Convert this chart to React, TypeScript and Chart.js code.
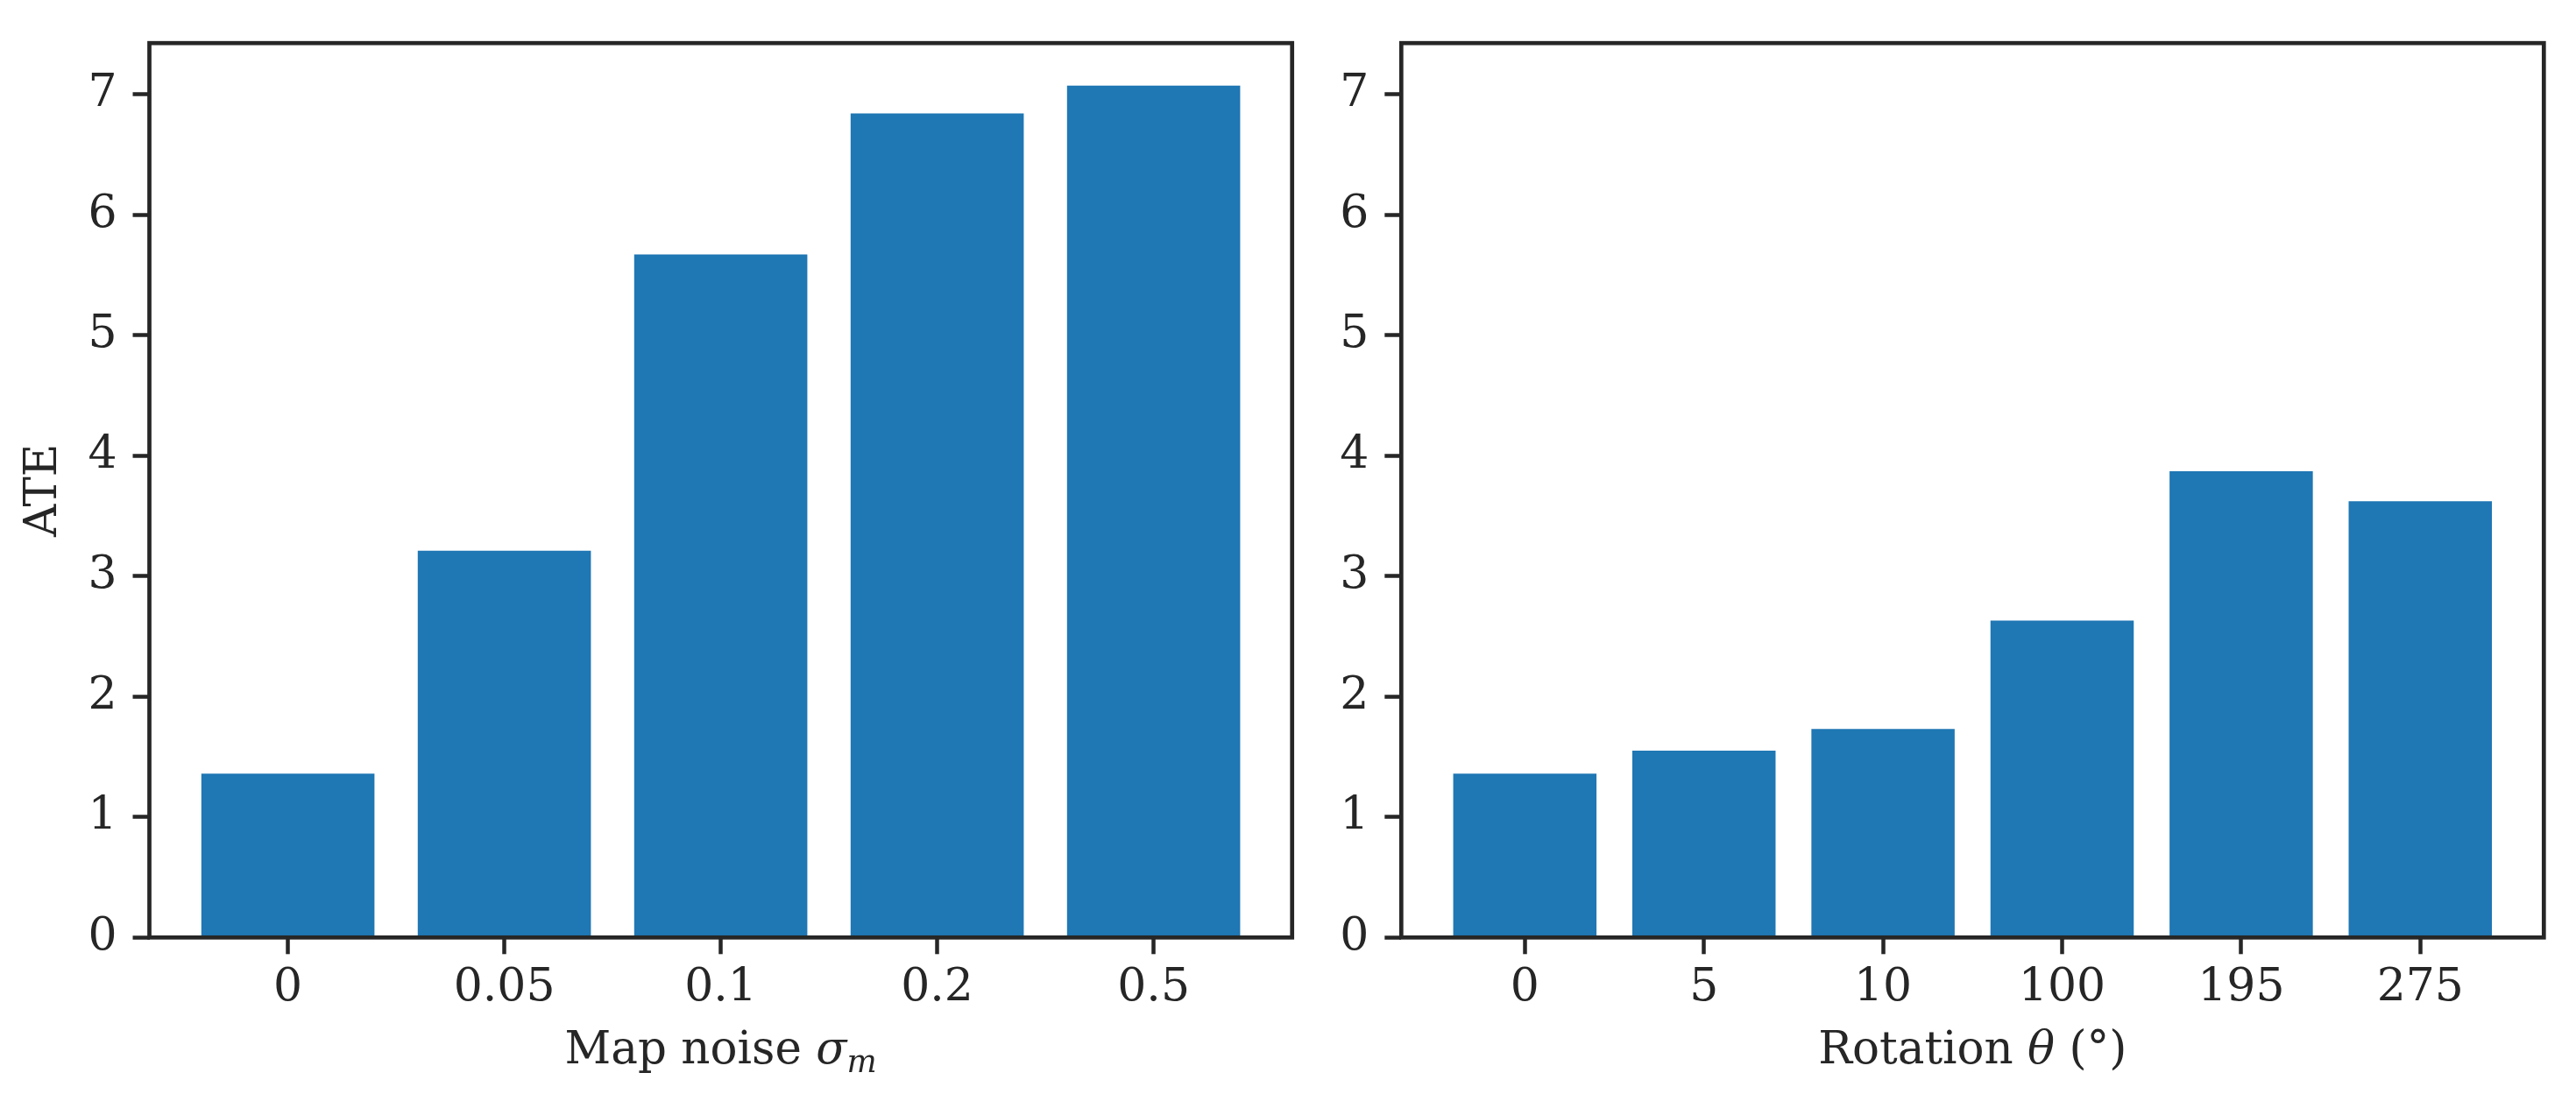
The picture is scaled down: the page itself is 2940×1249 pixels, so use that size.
import { useEffect, useRef } from "react";
import { Chart, registerables } from "chart.js";

Chart.register(...registerables);

// ATE for the map-noise sweep
const NOISE_LABELS = ["0", "0.05", "0.1", "0.2", "0.5"];
const NOISE_ATE = [1.36, 3.21, 5.67, 6.84, 7.07];

// ATE for the rotation sweep
const ROT_LABELS = ["0", "5", "10", "100", "195", "275"];
const ROT_ATE = [1.36, 1.55, 1.73, 2.63, 3.87, 3.62];

const Y_MAX = 7.4235;

const BLUE = "#1f77b4";
const INK = "#262626";
const FONT = "'DejaVu Serif', serif";

type Seg = { text: string; italic?: boolean; sub?: boolean };

const NOISE_TITLE: Seg[] = [
  { text: "Map noise " },
  { text: "σ", italic: true },
  { text: "m", italic: true, sub: true },
];
const ROT_TITLE: Seg[] = [
  { text: "Rotation " },
  { text: "θ", italic: true },
  { text: " (°)" },
];

// matplotlib-style closed frame round the plot area
const framePlugin = {
  id: "frame",
  afterDatasetsDraw(chart: Chart) {
    const { ctx, chartArea: a } = chart;
    ctx.save();
    ctx.strokeStyle = INK;
    ctx.lineWidth = 4.7;
    ctx.strokeRect(a.left, a.top, a.right - a.left, a.bottom - a.top);
    ctx.restore();
  },
};

// x title with math italic parts (sigma_m, theta)
function xTitlePlugin(segs: Seg[]) {
  return {
    id: "xTitle",
    afterDraw(chart: Chart) {
      const { ctx, chartArea: a } = chart;
      const size = 51.5;
      const fontOf = (s: Seg) =>
        `${s.italic ? "italic " : ""}${s.sub ? size * 0.7 : size}px ${FONT}`;
      ctx.save();
      ctx.fillStyle = INK;
      ctx.textBaseline = "alphabetic";
      ctx.textAlign = "left";
      const widths = segs.map((s) => {
        ctx.font = fontOf(s);
        return ctx.measureText(s.text).width;
      });
      const total = widths.reduce((p, w) => p + w, 0);
      let x = (a.left + a.right) / 2 - total / 2;
      const base = a.bottom + 144;
      segs.forEach((s, i) => {
        ctx.font = fontOf(s);
        ctx.fillText(s.text, x, s.sub ? base + 10 : base);
        x += widths[i];
      });
      ctx.restore();
    },
  };
}

function makeChart(
  canvas: HTMLCanvasElement,
  labels: string[],
  values: number[],
  title: Seg[],
  yWidth: number,
  padRight: number,
  yTitle: string | null,
) {
  const xMargin = 0.05 * (values.length - 1 + 0.8);
  return new Chart(canvas, {
    type: "bar",
    data: {
      datasets: [
        {
          data: values.map((v, i) => ({ x: i, y: v })),
          backgroundColor: BLUE,
          borderWidth: 0,
          barPercentage: 0.8,
          categoryPercentage: 1,
        },
      ],
    },
    options: {
      responsive: true,
      maintainAspectRatio: false,
      animation: false,
      events: [],
      layout: { padding: { top: 40.5, right: padRight, bottom: 0, left: 0 } },
      plugins: {
        legend: { display: false },
        tooltip: { enabled: false },
      },
      scales: {
        x: {
          type: "linear",
          offset: false,
          min: -0.4 - xMargin,
          max: values.length - 1 + 0.4 + xMargin,
          afterFit: (s: any) => {
            s.height = 178.7;
          },
          border: { display: false },
          grid: {
            offset: false,
            drawOnChartArea: false,
            drawTicks: true,
            tickLength: 19,
            tickWidth: 4.5,
            tickColor: INK,
          },
          ticks: {
            stepSize: 1,
            includeBounds: false,
            autoSkip: false,
            maxRotation: 0,
            padding: 8,
            color: INK,
            font: { family: FONT, size: 52 },
            callback: (v: any) => labels[v] ?? "",
          },
        },
        y: {
          type: "linear",
          min: 0,
          max: Y_MAX,
          afterFit: (s: any) => {
            s.width = yWidth;
          },
          border: { display: false },
          grid: {
            drawOnChartArea: false,
            drawTicks: true,
            tickLength: 19,
            tickWidth: 4.5,
            tickColor: INK,
          },
          ticks: {
            stepSize: 1,
            includeBounds: false,
            padding: 18,
            color: INK,
            font: { family: FONT, size: 52 },
          },
          title: {
            display: !!yTitle,
            text: yTitle ?? "",
            color: INK,
            font: { family: FONT, size: 51.5 },
            padding: { top: 20, bottom: 0 },
          },
        },
      },
    },
    plugins: [framePlugin, xTitlePlugin(title)],
  });
}

export default function App() {
  const leftRef = useRef<HTMLCanvasElement>(null);
  const rightRef = useRef<HTMLCanvasElement>(null);

  useEffect(() => {
    if (!leftRef.current || !rightRef.current) return;
    const left = makeChart(leftRef.current, NOISE_LABELS, NOISE_ATE, NOISE_TITLE, 170.5, 25.3, "ATE");
    const right = makeChart(rightRef.current, ROT_LABELS, ROT_ATE, ROT_TITLE, 99.3, 36.7, null);
    return () => {
      left.destroy();
      right.destroy();
    };
  }, []);

  return (
    <div
      style={{
        position: "fixed",
        left: 0,
        top: 0,
        width: "2940px",
        height: "1249px",
        background: "#ffffff",
      }}
    >
      <div style={{ position: "absolute", left: 0, top: 0, width: "1500px", height: "1249px" }}>
        <canvas ref={leftRef} />
      </div>
      <div style={{ position: "absolute", left: "1500px", top: 0, width: "1440px", height: "1249px" }}>
        <canvas ref={rightRef} />
      </div>
    </div>
  );
}
